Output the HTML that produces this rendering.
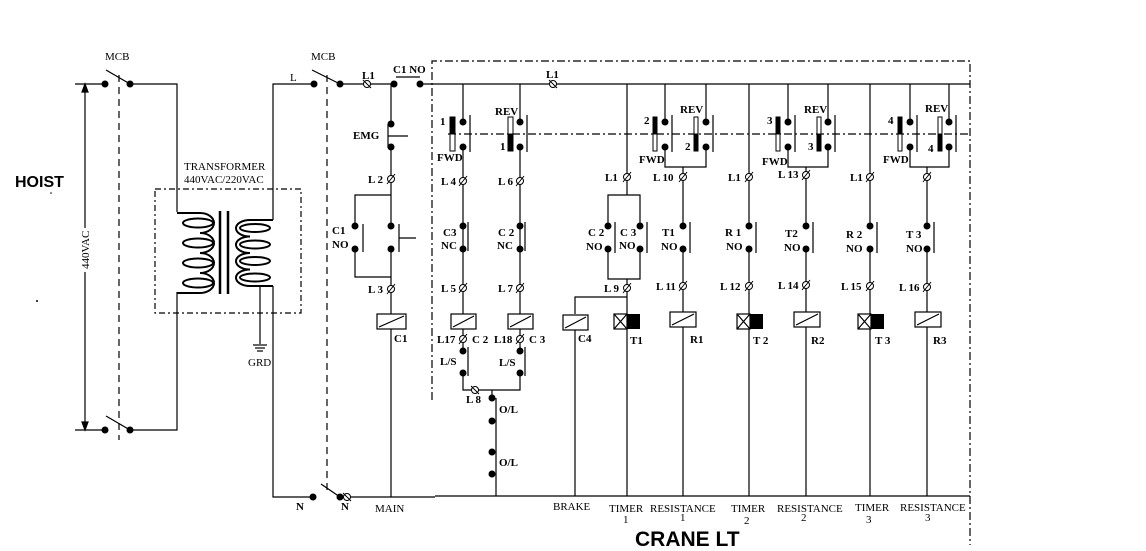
<!DOCTYPE html>
<html><head><meta charset="utf-8"><style>
html,body{margin:0;padding:0;background:#fff;}
svg{display:block;}
text{font-family:"Liberation Serif",serif;font-weight:bold;font-size:11px;fill:#000;}
.s{font-family:"Liberation Sans",sans-serif;}
</style></head><body>
<svg width="1146" height="551" viewBox="0 0 1146 551" xmlns="http://www.w3.org/2000/svg">
<g stroke="#000" stroke-width="1.2" fill="none">
<!-- left MCB -->
<line x1="75" y1="84" x2="105" y2="84"/>
<line x1="75" y1="430" x2="105" y2="430"/>
<line x1="119" y1="75" x2="119" y2="440" stroke-dasharray="7 5"/>
<line x1="106" y1="70" x2="130" y2="84"/>
<line x1="106" y1="416" x2="130" y2="430"/>
<line x1="85" y1="90" x2="85" y2="228"/>
<line x1="85" y1="272" x2="85" y2="424"/>
<polygon points="85,84 82,92 88,92" fill="#000"/>
<polygon points="85,430 82,422 88,422" fill="#000"/>
<polyline points="130,84 177,84 177,212"/>
<polyline points="130,430 177,430 177,292"/>
<!-- transformer -->
<rect x="155" y="189" width="146" height="124" stroke-dasharray="6 3 2 3"/>
<line x1="220" y1="211" x2="220" y2="294" stroke-width="2.5"/>
<line x1="228" y1="211" x2="228" y2="294" stroke-width="2.5"/>
<path d="M177,213 L200,213 a14,10 0 1 1 0,20 a14,10 0 1 1 0,20 a14,10 0 1 1 0,20 a14,10 0 1 1 0,20 L177,293" stroke-width="2"/>
<ellipse cx="198" cy="223" rx="15" ry="4.5" stroke-width="2"/>
<ellipse cx="198" cy="243" rx="15" ry="4.5" stroke-width="2"/>
<ellipse cx="198" cy="263" rx="15" ry="4.5" stroke-width="2"/>
<ellipse cx="198" cy="283" rx="15" ry="4.5" stroke-width="2"/>
<path d="M273,220 L250,220 a14,8.25 0 1 0 0,16.5 a14,8.25 0 1 0 0,16.5 a14,8.25 0 1 0 0,16.5 a14,8.25 0 1 0 0,16.5 L273,286" stroke-width="2"/>
<ellipse cx="255" cy="228" rx="15" ry="4" stroke-width="2"/>
<ellipse cx="255" cy="244.5" rx="15" ry="4" stroke-width="2"/>
<ellipse cx="255" cy="261" rx="15" ry="4" stroke-width="2"/>
<ellipse cx="255" cy="277.5" rx="15" ry="4" stroke-width="2"/>
<polyline points="273,220 273,84 314,84"/>
<polyline points="273,286 273,497 313,497"/>
<line x1="260" y1="286" x2="260" y2="344"/>
<line x1="253" y1="345" x2="267" y2="345"/>
<line x1="255" y1="348" x2="265" y2="348"/>
<line x1="257" y1="351" x2="263" y2="351"/>
<!-- right MCB -->
<line x1="327" y1="75" x2="327" y2="492" stroke-dasharray="7 5"/>
<line x1="312" y1="70" x2="340" y2="84"/>
<line x1="321" y1="484" x2="340" y2="497"/>
<line x1="340" y1="84" x2="394" y2="84"/>
<line x1="396" y1="77" x2="420" y2="77"/>
<line x1="420" y1="84" x2="970" y2="84"/>
<line x1="340" y1="497" x2="435" y2="497"/>
<line x1="435" y1="496" x2="970" y2="496"/>
<!-- dash-dot frame -->
<polyline points="432,400 432,61 970,61 970,545" stroke-dasharray="8 3 2 3"/>
<line x1="448" y1="134" x2="970" y2="134" stroke-dasharray="8 3 2 3"/>
<!-- C1 column -->
<line x1="391" y1="84" x2="391" y2="124"/>
<line x1="388" y1="124" x2="388" y2="148"/><line x1="388" y1="136" x2="408" y2="136"/>
<line x1="391" y1="147" x2="391" y2="226"/>
<polyline points="391,195 355,195 355,226"/>
<line x1="363" y1="224" x2="363" y2="252"/>
<polyline points="355,249 355,277 391,277"/>
<line x1="399" y1="224" x2="399" y2="252"/><line x1="399" y1="238" x2="416" y2="238"/>
<line x1="391" y1="249" x2="391" y2="314"/>
<line x1="391" y1="329" x2="391" y2="497"/>
<!-- FWD/REV 1 -->
<line x1="463" y1="84" x2="463" y2="122"/><line x1="520" y1="84" x2="520" y2="122"/>
<line x1="470" y1="115" x2="470" y2="152"/><line x1="527" y1="115" x2="527" y2="152"/>
<line x1="463" y1="147" x2="463" y2="314"/><line x1="520" y1="147" x2="520" y2="314"/>
<line x1="468" y1="222" x2="468" y2="251"/><line x1="525" y1="222" x2="525" y2="251"/>
<line x1="463" y1="329" x2="463" y2="351"/><line x1="520" y1="329" x2="520" y2="351"/>
<line x1="468" y1="347" x2="468" y2="376"/><line x1="525" y1="347" x2="525" y2="376"/>
<polyline points="463,373 463,390 520,390 520,373"/>
<line x1="492" y1="390" x2="492" y2="398"/>
<line x1="496" y1="398" x2="496" y2="496"/>
<!-- C4 / T1 column -->
<line x1="627" y1="84" x2="627" y2="195"/>
<polyline points="608,226 608,195 640,195 640,226"/>
<polyline points="608,249 608,279 640,279 640,249"/>
<line x1="615" y1="222" x2="615" y2="253"/><line x1="647" y1="222" x2="647" y2="253"/>
<line x1="627" y1="279" x2="627" y2="314"/>
<polyline points="627,297 575,297 575,314"/>
<line x1="575" y1="330" x2="575" y2="496"/>
<line x1="627" y1="329" x2="627" y2="496"/>
<!-- pairs 2-4 -->
<g>
<line x1="665" y1="84" x2="665" y2="122"/><line x1="706" y1="84" x2="706" y2="122"/>
<line x1="672" y1="115" x2="672" y2="152"/><line x1="713" y1="115" x2="713" y2="152"/>
<polyline points="665,147 665,167 706,167 706,147"/>
<line x1="683" y1="167" x2="683" y2="226"/>
<line x1="788" y1="84" x2="788" y2="122"/><line x1="828" y1="84" x2="828" y2="122"/>
<line x1="795" y1="115" x2="795" y2="152"/><line x1="835" y1="115" x2="835" y2="152"/>
<polyline points="788,147 788,167 828,167 828,147"/>
<line x1="806" y1="167" x2="806" y2="226"/>
<line x1="910" y1="84" x2="910" y2="122"/><line x1="949" y1="84" x2="949" y2="122"/>
<line x1="917" y1="115" x2="917" y2="152"/><line x1="956" y1="115" x2="956" y2="152"/>
<polyline points="910,147 910,167 949,167 949,147"/>
<line x1="927" y1="167" x2="927" y2="226"/>
<line x1="749" y1="84" x2="749" y2="226"/>
<line x1="870" y1="84" x2="870" y2="226"/>
</g>
<g>
<line x1="690" y1="222" x2="690" y2="253"/><line x1="756" y1="222" x2="756" y2="253"/>
<line x1="813" y1="222" x2="813" y2="253"/><line x1="877" y1="222" x2="877" y2="253"/>
<line x1="934" y1="222" x2="934" y2="253"/>
<line x1="683" y1="249" x2="683" y2="312"/><line x1="683" y1="327" x2="683" y2="496"/>
<line x1="749" y1="249" x2="749" y2="314"/><line x1="749" y1="329" x2="749" y2="496"/>
<line x1="806" y1="249" x2="806" y2="312"/><line x1="806" y1="327" x2="806" y2="496"/>
<line x1="870" y1="249" x2="870" y2="314"/><line x1="870" y1="329" x2="870" y2="496"/>
<line x1="927" y1="249" x2="927" y2="312"/><line x1="927" y1="327" x2="927" y2="496"/>
</g>
<!-- coils -->
<g fill="#fff">
<rect x="377" y="314" width="29" height="15"/><line x1="379" y1="327" x2="404" y2="316"/>
<rect x="451" y="314" width="25" height="15"/><line x1="453" y1="327" x2="474" y2="316"/>
<rect x="508" y="314" width="25" height="15"/><line x1="510" y1="327" x2="531" y2="316"/>
<rect x="563" y="315" width="25" height="15"/><line x1="565" y1="328" x2="586" y2="317"/>
<rect x="670" y="312" width="26" height="15"/><line x1="672" y1="325" x2="694" y2="314"/>
<rect x="794" y="312" width="26" height="15"/><line x1="796" y1="325" x2="818" y2="314"/>
<rect x="915" y="312" width="26" height="15"/><line x1="917" y1="325" x2="939" y2="314"/>
<rect x="614" y="314" width="13" height="15"/><line x1="614" y1="314" x2="627" y2="329"/><line x1="614" y1="329" x2="627" y2="314"/>
<rect x="737" y="314" width="13" height="15"/><line x1="737" y1="314" x2="750" y2="329"/><line x1="737" y1="329" x2="750" y2="314"/>
<rect x="858" y="314" width="13" height="15"/><line x1="858" y1="314" x2="871" y2="329"/><line x1="858" y1="329" x2="871" y2="314"/>
</g>
</g>
<g fill="#000">
<rect x="627" y="314" width="13" height="15"/><rect x="750" y="314" width="13" height="15"/><rect x="871" y="314" width="13" height="15"/>
</g>
<!-- FWD/REV bars -->
<g stroke="#000" stroke-width="1">
<rect x="450" y="117" width="5" height="34" fill="#fff"/><rect x="450" y="117" width="5" height="17" fill="#000"/>
<rect x="508" y="117" width="5" height="34" fill="#fff"/><rect x="508" y="134" width="5" height="17" fill="#000"/>
<rect x="653" y="117" width="4" height="34" fill="#fff"/><rect x="653" y="117" width="4" height="17" fill="#000"/>
<rect x="694" y="117" width="4" height="34" fill="#fff"/><rect x="694" y="134" width="4" height="17" fill="#000"/>
<rect x="776" y="117" width="4" height="34" fill="#fff"/><rect x="776" y="117" width="4" height="17" fill="#000"/>
<rect x="817" y="117" width="4" height="34" fill="#fff"/><rect x="817" y="134" width="4" height="17" fill="#000"/>
<rect x="898" y="117" width="4" height="34" fill="#fff"/><rect x="898" y="117" width="4" height="17" fill="#000"/>
<rect x="938" y="117" width="4" height="34" fill="#fff"/><rect x="938" y="134" width="4" height="17" fill="#000"/>
</g>
<!-- dots -->
<g fill="#000">
<circle cx="105" cy="84" r="3.5"/><circle cx="130" cy="84" r="3.5"/><circle cx="105" cy="430" r="3.5"/><circle cx="130" cy="430" r="3.5"/>
<circle cx="314" cy="84" r="3.5"/><circle cx="340" cy="84" r="3.5"/><circle cx="313" cy="497" r="3.5"/><circle cx="340" cy="497" r="3.5"/>
<circle cx="394" cy="84" r="3.5"/><circle cx="420" cy="84" r="3.5"/>
<circle cx="391" cy="124" r="3.5"/><circle cx="391" cy="147" r="3.5"/>
<circle cx="355" cy="226" r="3.5"/><circle cx="355" cy="249" r="3.5"/><circle cx="391" cy="226" r="3.5"/><circle cx="391" cy="249" r="3.5"/>
<circle cx="463" cy="122" r="3.5"/><circle cx="463" cy="147" r="3.5"/><circle cx="520" cy="122" r="3.5"/><circle cx="520" cy="147" r="3.5"/>
<circle cx="463" cy="226" r="3.5"/><circle cx="463" cy="249" r="3.5"/><circle cx="520" cy="226" r="3.5"/><circle cx="520" cy="249" r="3.5"/>
<circle cx="463" cy="351" r="3.5"/><circle cx="463" cy="373" r="3.5"/><circle cx="520" cy="351" r="3.5"/><circle cx="520" cy="373" r="3.5"/>
<circle cx="492" cy="398" r="3.5"/><circle cx="492" cy="421" r="3.5"/><circle cx="492" cy="452" r="3.5"/><circle cx="492" cy="474" r="3.5"/>
<circle cx="608" cy="226" r="3.5"/><circle cx="608" cy="249" r="3.5"/><circle cx="640" cy="226" r="3.5"/><circle cx="640" cy="249" r="3.5"/>
<circle cx="665" cy="122" r="3.5"/><circle cx="665" cy="147" r="3.5"/><circle cx="706" cy="122" r="3.5"/><circle cx="706" cy="147" r="3.5"/>
<circle cx="788" cy="122" r="3.5"/><circle cx="788" cy="147" r="3.5"/><circle cx="828" cy="122" r="3.5"/><circle cx="828" cy="147" r="3.5"/>
<circle cx="910" cy="122" r="3.5"/><circle cx="910" cy="147" r="3.5"/><circle cx="949" cy="122" r="3.5"/><circle cx="949" cy="147" r="3.5"/>
<circle cx="683" cy="226" r="3.5"/><circle cx="683" cy="249" r="3.5"/><circle cx="749" cy="226" r="3.5"/><circle cx="749" cy="249" r="3.5"/>
<circle cx="806" cy="226" r="3.5"/><circle cx="806" cy="249" r="3.5"/><circle cx="870" cy="226" r="3.5"/><circle cx="870" cy="249" r="3.5"/>
<circle cx="927" cy="226" r="3.5"/><circle cx="927" cy="249" r="3.5"/>
<circle cx="37" cy="301" r="1"/><circle cx="51" cy="193" r="0.8"/>
</g>
<!-- terminals -->
<g stroke="#000" stroke-width="1" fill="#fff">
<circle cx="367" cy="84" r="3.5"/><circle cx="553" cy="84" r="3.5"/><circle cx="391" cy="179" r="3.5"/><circle cx="391" cy="289" r="3.5"/>
<circle cx="463" cy="181" r="3.5"/><circle cx="463" cy="288" r="3.5"/><circle cx="463" cy="339" r="3.5"/>
<circle cx="520" cy="181" r="3.5"/><circle cx="520" cy="288" r="3.5"/><circle cx="520" cy="339" r="3.5"/>
<circle cx="475" cy="390" r="3.5"/><circle cx="347" cy="497" r="3.5"/>
<circle cx="627" cy="177" r="3.5"/><circle cx="627" cy="288" r="3.5"/>
<circle cx="683" cy="177" r="3.5"/><circle cx="683" cy="286" r="3.5"/>
<circle cx="749" cy="177" r="3.5"/><circle cx="749" cy="286" r="3.5"/>
<circle cx="806" cy="175" r="3.5"/><circle cx="806" cy="285" r="3.5"/>
<circle cx="870" cy="177" r="3.5"/><circle cx="870" cy="286" r="3.5"/>
<circle cx="927" cy="177" r="3.5"/><circle cx="927" cy="287" r="3.5"/>
</g>
<g stroke="#000" stroke-width="1">
<line x1="363" y1="80" x2="371" y2="88"/><line x1="549" y1="80" x2="557" y2="88"/><line x1="471" y1="386" x2="479" y2="394"/><line x1="343" y1="493" x2="351" y2="501"/>
<line x1="387" y1="184" x2="395" y2="174"/><line x1="387" y1="294" x2="395" y2="284"/>
<line x1="459" y1="186" x2="467" y2="176"/><line x1="459" y1="293" x2="467" y2="283"/><line x1="459" y1="344" x2="467" y2="334"/>
<line x1="516" y1="186" x2="524" y2="176"/><line x1="516" y1="293" x2="524" y2="283"/><line x1="516" y1="344" x2="524" y2="334"/>
<line x1="623" y1="182" x2="631" y2="172"/><line x1="623" y1="293" x2="631" y2="283"/>
<line x1="679" y1="182" x2="687" y2="172"/><line x1="679" y1="291" x2="687" y2="281"/>
<line x1="745" y1="182" x2="753" y2="172"/><line x1="745" y1="291" x2="753" y2="281"/>
<line x1="802" y1="180" x2="810" y2="170"/><line x1="802" y1="290" x2="810" y2="280"/>
<line x1="866" y1="182" x2="874" y2="172"/><line x1="866" y1="291" x2="874" y2="281"/>
<line x1="923" y1="182" x2="931" y2="172"/><line x1="923" y1="292" x2="931" y2="282"/>
</g>
<!-- labels -->
<g>
<text x="105" y="60" style="font-weight:normal">MCB</text>
<text x="311" y="60" style="font-weight:normal">MCB</text>
<text x="184" y="170" style="font-weight:normal">TRANSFORMER</text>
<text x="184" y="183" style="font-weight:normal">440VAC/220VAC</text>
<text x="248" y="366" style="font-weight:normal">GRD</text>
<text x="290" y="81" style="font-weight:normal">L</text>
<text x="296" y="510">N</text><text x="341" y="510">N</text>
<text x="375" y="512" style="font-weight:normal">MAIN</text>
<text x="553" y="510" style="font-weight:normal">BRAKE</text>
<text x="609" y="512" style="font-weight:normal">TIMER</text><text x="623" y="523" style="font-weight:normal">1</text>
<text x="650" y="512" style="font-weight:normal">RESISTANCE</text><text x="680" y="521" style="font-weight:normal">1</text>
<text x="731" y="512" style="font-weight:normal">TIMER</text><text x="744" y="524" style="font-weight:normal">2</text>
<text x="777" y="512" style="font-weight:normal">RESISTANCE</text><text x="801" y="521" style="font-weight:normal">2</text>
<text x="855" y="511" style="font-weight:normal">TIMER</text><text x="866" y="523" style="font-weight:normal">3</text>
<text x="900" y="511" style="font-weight:normal">RESISTANCE</text><text x="925" y="521" style="font-weight:normal">3</text>
</g>
<text x="0" y="0" transform="translate(89,269) rotate(-90)" style="font-weight:normal">440VAC</text>
<text x="362" y="79">L1</text><text x="393" y="73">C1 NO</text><text x="546" y="78">L1</text>
<text x="353" y="139">EMG</text>
<text x="368" y="183">L 2</text><text x="368" y="293">L 3</text>
<text x="332" y="234">C1</text><text x="332" y="248">NO</text>
<text x="394" y="342">C1</text>
<text x="440" y="125">1</text><text x="437" y="161">FWD</text>
<text x="495" y="115">REV</text><text x="500" y="150">1</text>
<text x="441" y="185">L 4</text><text x="498" y="185">L 6</text>
<text x="443" y="236">C3</text><text x="441" y="249">NC</text>
<text x="498" y="236">C 2</text><text x="497" y="249">NC</text>
<text x="441" y="292">L 5</text><text x="498" y="292">L 7</text>
<text x="437" y="343">L17</text><text x="472" y="343">C 2</text>
<text x="494" y="343">L18</text><text x="529" y="343">C 3</text>
<text x="440" y="365">L/S</text><text x="499" y="366">L/S</text>
<text x="466" y="403">L 8</text>
<text x="499" y="413">O/L</text><text x="499" y="466">O/L</text>
<text x="578" y="342">C4</text>
<text x="605" y="181">L1</text>
<text x="588" y="236">C 2</text><text x="586" y="250">NO</text>
<text x="620" y="236">C 3</text><text x="619" y="249">NO</text>
<text x="604" y="292">L 9</text>
<text x="630" y="344">T1</text>
<text x="644" y="124">2</text><text x="639" y="163">FWD</text>
<text x="680" y="113">REV</text><text x="685" y="150">2</text>
<text x="653" y="181">L 10</text>
<text x="662" y="236">T1</text><text x="661" y="250">NO</text>
<text x="656" y="290">L 11</text>
<text x="690" y="343">R1</text>
<text x="728" y="181">L1</text>
<text x="725" y="236">R 1</text><text x="726" y="250">NO</text>
<text x="720" y="290">L 12</text>
<text x="753" y="344">T 2</text>
<text x="767" y="124">3</text><text x="762" y="165">FWD</text>
<text x="804" y="113">REV</text><text x="808" y="150">3</text>
<text x="778" y="178">L 13</text>
<text x="785" y="237">T2</text><text x="784" y="251">NO</text>
<text x="778" y="289">L 14</text>
<text x="811" y="344">R2</text>
<text x="850" y="181">L1</text>
<text x="846" y="238">R 2</text><text x="846" y="252">NO</text>
<text x="841" y="290">L 15</text>
<text x="875" y="344">T 3</text>
<text x="888" y="124">4</text><text x="883" y="163">FWD</text>
<text x="925" y="112">REV</text><text x="928" y="152">4</text>
<text x="899" y="291">L 16</text>
<text x="906" y="238">T 3</text><text x="906" y="252">NO</text>
<text x="933" y="344">R3</text>
<text x="15" y="187" class="s" style="font-size:16px">HOIST</text>
<text x="635" y="546" class="s" style="font-size:21px">CRANE LT</text>
</svg>
</body></html>
